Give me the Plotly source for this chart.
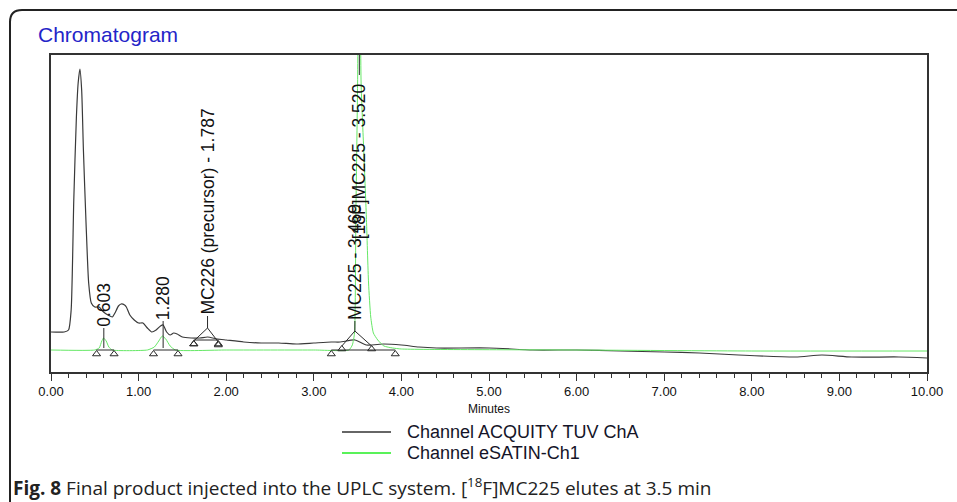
import plotly.graph_objects as go

# ---------------- data ----------------
time_uv = [0.00, 0.15, 0.20, 0.23, 0.26, 0.29, 0.31, 0.33, 0.35, 0.37,
           0.40, 0.43, 0.46, 0.50, 0.55, 0.60, 0.65, 0.70, 0.73, 0.77,
           0.80, 0.84, 0.86, 0.90, 0.95, 1.00, 1.05, 1.10, 1.15, 1.20,
           1.25, 1.28, 1.32, 1.36, 1.40, 1.44, 1.50, 1.60, 1.70, 1.787,
           1.90, 2.00, 2.20, 2.40, 2.60, 2.80, 3.00, 3.20, 3.30, 3.47,
           3.60, 3.80, 4.00, 4.20, 4.40, 5.00, 5.50, 6.00, 6.50, 7.00,
           7.40, 7.85, 8.50, 8.80, 9.14, 9.68, 10.00]
signal_uv = [40, 40, 42, 62, 172, 255, 289, 303, 282, 222,
             149, 89, 69, 65, 65, 60, 57, 55, 59, 66,
             68, 67, 65, 57, 52, 49, 49, 44, 40, 42,
             46, 47, 40, 37, 39, 38, 35, 34, 34, 35,
             33, 32, 30, 29, 29, 28, 29, 30, 30, 32,
             27, 28, 27, 25, 24, 24, 22, 22, 21, 20,
             19, 17, 15, 17, 15, 15, 14]

time_rad = [0.00, 0.50, 0.55, 0.58, 0.60, 0.63, 0.66, 0.70,
            1.10, 1.18, 1.23, 1.27, 1.31, 1.36, 1.42,
            2.00, 3.00, 3.40, 3.44, 3.465, 3.48, 3.50, 3.52, 3.54, 3.57,
            3.60, 3.625, 3.65, 3.68, 3.73, 3.80, 3.90, 4.00,
            6.00, 8.00, 10.00]
signal_rad = [22, 22, 24, 31, 34, 31, 25, 22,
              22, 25, 31, 36, 33, 26, 22,
              22, 22, 22, 27, 39, 155, 289, 520, 289, 222,
              155, 89, 55, 39, 32, 26, 24, 23,
              22, 21, 21]

channel_names = ["Channel ACQUITY TUV ChA", "Channel eSATIN-Ch1"]

peak_labels = ["0.603", "1.280", "MC226 (precursor) - 1.787",
               "MC225 - 3.469", "[18F]MC225 - 3.520"]
peak_times = [0.603, 1.280, 1.787, 3.469, 3.520]
label_base = [43, 50, 55, 50, 131]          # signal level at label foot
stem_top = [44, 51, 56, 51, 297]
stem_bottom = [24, 24, 44, 41, 340]

# integration baselines (start, end, level)
base_start = [0.52, 1.17, 1.63, 3.20]
base_end = [0.72, 1.45, 1.91, 3.93]
base_level = [22, 22, 32, 22]
# drop-line roofs for the UV peaks (left, apex time, right) and levels
roof_left = [1.63, 3.32]
roof_apex = [1.787, 3.469]
roof_right = [1.91, 3.66]
roof_left_lvl = [31, 26]
roof_apex_lvl = [44, 41]
roof_right_lvl = [30, 26]

x_ticks = [0, 1, 2, 3, 4, 5, 6, 7, 8, 9, 10]
x_tick_text = ["0.00", "1.00", "2.00", "3.00", "4.00", "5.00",
               "6.00", "7.00", "8.00", "9.00", "10.00"]

# ---------------- layout geometry ----------------
W, H = 957, 502
L, R, T, B = 51, 30, 55, 130
PW, PH = W - L - R, H - T - B


def px(x):
    return (x - L) / PW


def py(y):
    return (H - B - y) / PH


BLACK = "#3a3a3a"
GREEN = "#66e866"
MARK = "#2a2a2a"

fig = go.Figure()

fig.add_trace(go.Scatter(x=time_uv, y=signal_uv, mode="lines",
                         line=dict(color=BLACK, width=1.2, shape="spline", smoothing=0.6),
                         name=channel_names[0], showlegend=False))
fig.add_trace(go.Scatter(x=time_rad, y=signal_rad, mode="lines",
                         line=dict(color=GREEN, width=1, shape="spline", smoothing=0.5),
                         name=channel_names[1], showlegend=False))

# stems
for t, a, b in zip(peak_times, stem_top, stem_bottom):
    fig.add_trace(go.Scatter(x=[t, t], y=[a, b], mode="lines",
                             line=dict(color=MARK, width=1), showlegend=False,
                             hoverinfo="skip"))
# baselines with triangles
for s, e, lv in zip(base_start, base_end, base_level):
    fig.add_trace(go.Scatter(x=[s, e], y=[lv, lv], mode="lines",
                             line=dict(color=MARK, width=1), showlegend=False,
                             hoverinfo="skip"))
    fig.add_trace(go.Scatter(x=[s, e], y=[lv - 4, lv - 4], mode="markers",
                             marker=dict(symbol="triangle-up-open", size=7,
                                         color=MARK, line=dict(width=1)),
                             showlegend=False, hoverinfo="skip"))
# roofs
for l0, a0, r0, ll, al, rl in zip(roof_left, roof_apex, roof_right,
                                   roof_left_lvl, roof_apex_lvl, roof_right_lvl):
    fig.add_trace(go.Scatter(x=[l0, a0, r0], y=[ll, al, rl], mode="lines",
                             line=dict(color=MARK, width=1), showlegend=False,
                             hoverinfo="skip"))
    fig.add_trace(go.Scatter(x=[l0, r0], y=[ll - 3, rl - 3], mode="markers",
                             marker=dict(symbol="triangle-up-open", size=7,
                                         color=MARK, line=dict(width=1)),
                             showlegend=False, hoverinfo="skip"))

annotations = []
for lab, t, yb in zip(peak_labels, peak_times, label_base):
    annotations.append(dict(x=t, y=yb, xref="x", yref="y", text=lab,
                            textangle=-90, showarrow=False,
                            xanchor="center", yanchor="bottom",
                            font=dict(family="Arial", size=17.5, color="#111")))

# title
annotations.append(dict(x=px(36), y=py(35), xref="paper", yref="paper",
                        text="Chromatogram", showarrow=False,
                        xanchor="left", yanchor="middle",
                        font=dict(family="Arial", size=21, color="#2424c8")))
# legend texts
annotations.append(dict(x=px(405), y=py(432), xref="paper", yref="paper",
                        text=channel_names[0], showarrow=False,
                        xanchor="left", yanchor="middle",
                        font=dict(family="Arial", size=18, color="#141428")))
annotations.append(dict(x=px(405), y=py(453), xref="paper", yref="paper",
                        text=channel_names[1], showarrow=False,
                        xanchor="left", yanchor="middle",
                        font=dict(family="Arial", size=18, color="#141428")))
# caption
annotations.append(dict(x=px(11), y=py(487), xref="paper", yref="paper",
                        text="<b>Fig. 8</b> Final product injected into the UPLC system. "
                             "[<sup>18</sup>F]MC225 elutes at 3.5 min",
                        showarrow=False, xanchor="left", yanchor="middle",
                        font=dict(family="Open Sans", size=19, color="#222")))

shapes = [
    # legend line samples
    dict(type="line", xref="paper", yref="paper", x0=px(342), x1=px(391),
         y0=py(432), y1=py(432), line=dict(color="#333", width=1.5)),
    dict(type="line", xref="paper", yref="paper", x0=px(342), x1=px(391),
         y0=py(453), y1=py(453), line=dict(color="#22ee22", width=1.5)),
    # outer rounded border
    dict(type="path", xref="paper", yref="paper",
         path=f"M {px(10)},{py(520)} L {px(10)},{py(22)} "
              f"Q {px(10)},{py(10)} {px(22)},{py(10)} L {px(980)},{py(10)}",
         line=dict(color="#222", width=2)),
]

fig.update_layout(
    width=W, height=H,
    margin=dict(l=L, r=R, t=T, b=B),
    paper_bgcolor="white", plot_bgcolor="white",
    showlegend=False,
    annotations=annotations, shapes=shapes,
    xaxis=dict(range=[0, 10], tickvals=x_ticks, ticktext=x_tick_text,
               ticks="outside", ticklen=7, tickwidth=1, tickcolor="#333",
               minor=dict(dtick=0.2, ticks="outside", ticklen=4, tickcolor="#333"),
               showline=True, linecolor="#333", linewidth=1.5, mirror=True,
               showgrid=False, zeroline=False,
               tickfont=dict(family="Arial", size=13, color="#111"),
               title=dict(text="Minutes", standoff=6,
                          font=dict(family="Arial", size=12, color="#111"))),
    yaxis=dict(range=[0, 317], showticklabels=False, ticks="",
               showline=True, linecolor="#333", linewidth=1.5, mirror=True,
               showgrid=False, zeroline=False),
)

fig.write_html("out.html",
               config={"displayModeBar": False},
               post_script="document.body.style.margin='0px';"
                           "document.body.style.overflow='hidden';")
